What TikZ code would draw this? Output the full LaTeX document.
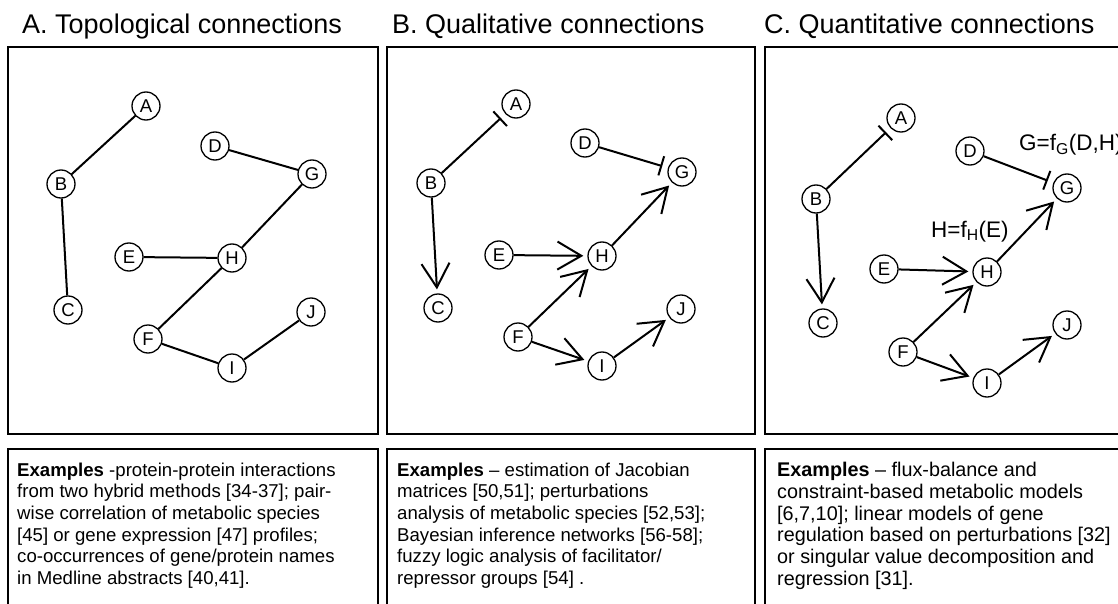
\documentclass[tikz,border=0pt]{standalone}
\usepackage{fontspec}
\setmainfont{Liberation Sans}
\usetikzlibrary{arrows.meta}

\begin{document}
\begin{tikzpicture}[
  x=1pt, y=-1pt,
  nd/.style={circle, draw, line width=1.3pt, minimum size=28pt, inner sep=0pt,
             font=\fontsize{18.5}{21}\selectfont},
  frm/.style={draw, line width=1.6pt},
  ttl/.style={anchor=base west, inner sep=0pt, font=\fontsize{27}{32}\selectfont},
  txt/.style={anchor=north west, inner sep=0pt, align=left,
              font=\fontsize{18.6}{21.6}\selectfont},
  eqn/.style={anchor=base west, inner sep=0pt, font=\fontsize{22.5}{26}\selectfont},
  ln/.style={line width=2pt},
  act/.style={ln, -{Straight Barb[length=24pt, width=28pt]}, shorten >=4pt},
  inh/.style={ln, -{Bar[width=20pt]}, shorten >=6pt}]
\fill[white] (0,0) rectangle (1118,604);
\useasboundingbox (0,0) rectangle (1118,604);
% panels
\draw[frm] (8,47) rectangle (378,434);
\draw[frm] (387,47) rectangle (755,434);
\draw[frm] (765,47) rectangle (1140,434);
\draw[frm] (8,449) rectangle (378,620);
\draw[frm] (387,449) rectangle (755,620);
\draw[frm] (765,449) rectangle (1140,620);
\node[ttl] (ta) at (22,34) {A. Topological connections};
\node[ttl] (tb) at (392,34) {B. Qualitative connections};
\node[ttl] (tc) at (764,34) {C. Quantitative connections};
% A: topological
\node[nd] (aA) at (146,106) {A}; \node[nd] (aB) at (61,184) {B};
\node[nd] (aC) at (68,310) {C};  \node[nd] (aD) at (215,146) {D};
\node[nd] (aE) at (129,257) {E}; \node[nd] (aF) at (148,339) {F};
\node[nd] (aG) at (312,174) {G}; \node[nd] (aH) at (232,258) {H};
\node[nd] (aI) at (232,368) {I}; \node[nd] (aJ) at (311,312) {J};
\draw[ln] (aA)--(aB); \draw[ln] (aB)--(aC); \draw[ln] (aD)--(aG); \draw[ln] (aG)--(aH);
\draw[ln] (aE)--(aH); \draw[ln] (aH)--(aF); \draw[ln] (aF)--(aI); \draw[ln] (aI)--(aJ);
% B: qualitative
\node[nd] (bA) at (516,104) {A}; \node[nd] (bB) at (431,183) {B};
\node[nd] (bC) at (438,308) {C}; \node[nd] (bD) at (585,143) {D};
\node[nd] (bE) at (499,255) {E}; \node[nd] (bF) at (518,337) {F};
\node[nd] (bG) at (682,172) {G}; \node[nd] (bH) at (602,256) {H};
\node[nd] (bI) at (602,366) {I}; \node[nd] (bJ) at (681,309) {J};
\draw[inh] (bB)--(bA); \draw[act] (bB)--(bC); \draw[inh] (bD)--(bG); \draw[act] (bH)--(bG);
\draw[act] (bE)--(bH); \draw[act] (bF)--(bH); \draw[act] (bF)--(bI); \draw[act] (bI)--(bJ);
% C: quantitative
\node[nd] (cA) at (901,118) {A}; \node[nd] (cB) at (816,199) {B};
\node[nd] (cC) at (823,323) {C}; \node[nd] (cD) at (970,151) {D};
\node[nd] (cE) at (884,269) {E}; \node[nd] (cF) at (903,352) {F};
\node[nd] (cG) at (1067,188) {G}; \node[nd] (cH) at (987,272) {H};
\node[nd] (cI) at (987,383) {I}; \node[nd] (cJ) at (1067,325) {J};
\draw[inh] (cB)--(cA); \draw[act] (cB)--(cC); \draw[inh] (cD)--(cG); \draw[act] (cH)--(cG);
\draw[act] (cE)--(cH); \draw[act] (cF)--(cH); \draw[act] (cF)--(cI); \draw[act] (cI)--(cJ);
\node[eqn] (fh) at (931,237) {H=f\textsubscript{H}(E)};
\node[eqn] (fg) at (1019,151) {G=f\textsubscript{G}(D,H)};
% examples
\node[txt] (xa) at (17,461) {\strut\textbf{Examples} -protein-protein interactions\\
  from two hybrid methods [34-37]; pair-\\wise correlation of metabolic species\\
  {}[45] or gene expression [47] profiles;\\co-occurrences of gene/protein names\\
  in Medline abstracts [40,41].};
\node[txt] (xb) at (397,461) {\strut\textbf{Examples} – estimation of Jacobian\\
  matrices [50,51]; perturbations\\analysis of metabolic species [52,53];\\
  Bayesian inference networks [56-58];\\fuzzy logic analysis of facilitator/\\
  repressor groups [54] .};
\node[txt, font=\fontsize{19.8}{21.8}\selectfont] (xc) at (777,461)
  {\strut\textbf{Examples} – flux-balance and\\
  constraint-based metabolic models\\{}[6,7,10]; linear models of gene\\
  regulation based on perturbations [32]\\or singular value decomposition and\\
  regression [31].};
\end{tikzpicture}
\end{document}
